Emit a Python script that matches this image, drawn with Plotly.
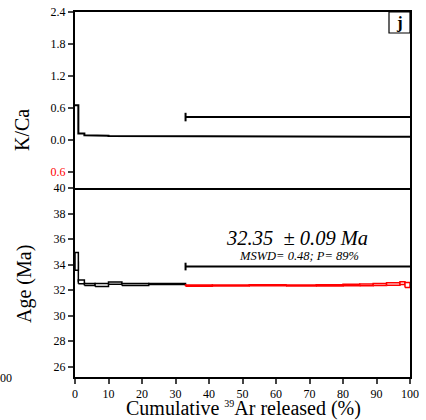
import plotly.graph_objects as go

# ---- data ----
step_edges = [0, 1, 2.8, 6, 10, 14, 22, 33, 41, 52, 63, 72, 80, 85, 89, 93, 97, 98.5, 100]
ages = [34.25, 32.65, 32.45, 32.40, 32.55, 32.45, 32.48, 32.35, 32.37, 32.38, 32.37, 32.38,
        32.40, 32.42, 32.45, 32.48, 32.55, 32.40]
age_err = [0.70, 0.15, 0.08, 0.12, 0.08, 0.08, 0.04, 0.05, 0.04, 0.04, 0.04, 0.05,
           0.06, 0.07, 0.08, 0.10, 0.10, 0.20]
in_plateau = [False] * 7 + [True] * 11
kca = [0.65, 0.12, 0.09, 0.08, 0.075, 0.07, 0.07, 0.07, 0.07, 0.068, 0.066, 0.065,
       0.064, 0.063, 0.062, 0.06, 0.06, 0.06]

plateau_start, plateau_end = 33, 100
plateau_age_bar = 33.85
plateau_kca_bar = 0.43
plateau_text = "32.35  ± 0.09 Ma"
mswd_text = "MSWD= 0.48; P= 89%"

kca_ticks = [-0.6, 0.0, 0.6, 1.2, 1.8, 2.4]
kca_ticktext = ['<span style="color:red">0.6</span>', "0.0", "0.6", "1.2", "1.8", "2.4"]
age_ticks = [26, 28, 30, 32, 34, 36, 38, 40]
x_ticks = list(range(0, 101, 10))

FONT = "Liberation Serif"
W, H = 426, 420
ML, MR, MT, MB = 75, 16, 12, 43
PW, PH = W - ML - MR, H - MT - MB


def px_x(x):
    return (x - ML) / PW


def px_y(y):
    return (H - MB - y) / PH


fig = go.Figure()

# K/Ca step line (upper panel)
kx, ky = [], []
for i, v in enumerate(kca):
    kx += [step_edges[i], step_edges[i + 1]]
    ky += [v, v]
fig.add_trace(go.Scatter(x=kx, y=ky, mode="lines", line=dict(color="black", width=2),
                         xaxis="x", yaxis="y", hoverinfo="skip"))
# K/Ca plateau bar
fig.add_trace(go.Scatter(x=[plateau_start, plateau_end], y=[plateau_kca_bar] * 2, mode="lines",
                         line=dict(color="black", width=2), xaxis="x", yaxis="y"))
fig.add_trace(go.Scatter(x=[plateau_start] * 2, y=[plateau_kca_bar - 0.08, plateau_kca_bar + 0.08],
                         mode="lines", line=dict(color="black", width=2), xaxis="x", yaxis="y"))

# age connecting lines
for i in range(len(ages) - 1):
    col = "red" if in_plateau[i] and in_plateau[i + 1] else "black"
    fig.add_trace(go.Scatter(x=[step_edges[i + 1]] * 2, y=[ages[i], ages[i + 1]], mode="lines",
                             line=dict(color=col, width=1.5), xaxis="x2", yaxis="y2"))
# age boxes
for i, a in enumerate(ages):
    x0, x1 = step_edges[i], step_edges[i + 1]
    e = age_err[i]
    col = "red" if in_plateau[i] else "black"
    fig.add_trace(go.Scatter(x=[x0, x1, x1, x0, x0], y=[a - e, a - e, a + e, a + e, a - e],
                             mode="lines", fill="toself", fillcolor="white",
                             line=dict(color=col, width=1.5), xaxis="x2", yaxis="y2"))
# age plateau bar
fig.add_trace(go.Scatter(x=[plateau_start, plateau_end], y=[plateau_age_bar] * 2, mode="lines",
                         line=dict(color="black", width=2), xaxis="x2", yaxis="y2"))
fig.add_trace(go.Scatter(x=[plateau_start] * 2, y=[plateau_age_bar - 0.3, plateau_age_bar + 0.3],
                         mode="lines", line=dict(color="black", width=2), xaxis="x2", yaxis="y2"))

split = px_y(188)

axis_common = dict(showline=True, linecolor="black", linewidth=2,
                   showgrid=False, zeroline=False, automargin=False,
                   tickfont=dict(family=FONT, size=12, color="black"))

fig.update_layout(
    width=W, height=H, margin=dict(l=ML, r=MR, t=MT, b=MB, autoexpand=False),
    paper_bgcolor="white", plot_bgcolor="white", showlegend=False,
    xaxis=dict(domain=[0, 1], range=[0, 100], anchor="y", showticklabels=False,
               ticks="", mirror=True, **axis_common),
    yaxis=dict(domain=[split, 1], range=[-0.9, 2.4], anchor="x", tickvals=kca_ticks,
               ticktext=kca_ticktext, ticks="outside", ticklen=5, tickwidth=1.5,
               mirror=True, **axis_common),
    xaxis2=dict(domain=[0, 1], range=[0, 100], anchor="y2", tickvals=x_ticks,
                ticks="outside", ticklen=5, tickwidth=1.5, mirror=False, **axis_common),
    yaxis2=dict(domain=[0, split], range=[25.2, 40], anchor="x2", tickvals=age_ticks,
                ticks="outside", ticklen=5, tickwidth=1.5, mirror=True, **axis_common),
)

title_font = dict(family=FONT, size=20, color="black")
fig.add_annotation(xref="paper", yref="paper", x=px_x(22), y=px_y(130), text="K/Ca",
                   textangle=-90, showarrow=False, xanchor="center", yanchor="middle",
                   font=title_font)
fig.add_annotation(xref="paper", yref="paper", x=px_x(24), y=px_y(284), text="Age (Ma)",
                   textangle=-90, showarrow=False, xanchor="center", yanchor="middle",
                   font=title_font)
fig.add_annotation(xref="paper", yref="paper", x=px_x(243), y=px_y(408.5),
                   text='Cumulative <sup><span style="font-size:10px">39</span></sup>Ar released (%)',
                   showarrow=False, xanchor="center", yanchor="middle", font=title_font)

fig.add_annotation(x=66.3, y=36.1, xref="x2", yref="y2", text="<i>" + plateau_text + "</i>",
                   showarrow=False, xanchor="center", yanchor="middle",
                   font=dict(family=FONT, size=20.5, color="black"))
fig.add_annotation(x=66.8, y=34.65, xref="x2", yref="y2", text="<i>" + mswd_text + "</i>",
                   showarrow=False, xanchor="center", yanchor="middle",
                   font=dict(family=FONT, size=12.5, color="black"))

# panel label box "j"
fig.add_shape(type="rect", xref="paper", yref="paper", x0=px_x(389), x1=1,
              y0=px_y(33), y1=1, line=dict(color="black", width=1.2))
fig.add_annotation(xref="paper", yref="paper", x=px_x(399.5), y=px_y(22),
                   text="<b>j</b>", showarrow=False, xanchor="center", yanchor="middle",
                   font=dict(family=FONT, size=17, color="black"))
# clipped neighbouring label fragment
fig.add_annotation(xref="paper", yref="paper", x=px_x(6), y=px_y(378),
                   text="00", showarrow=False, xanchor="center", yanchor="middle",
                   font=dict(family=FONT, size=12, color="black"))

fig.write_html("out.html")
